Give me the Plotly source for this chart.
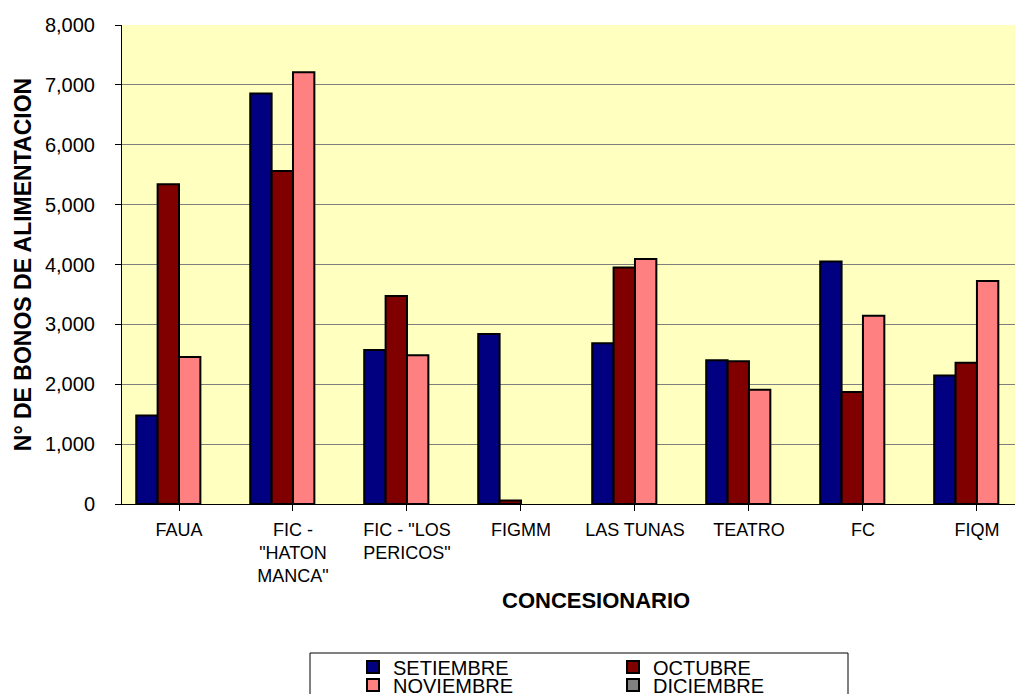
import plotly.graph_objects as go

categories = ['FAUA', 'FIC -<br>"HATON<br>MANCA"', 'FIC - "LOS<br>PERICOS"', 'FIGMM',
              'LAS TUNAS', 'TEATRO', 'FC', 'FIQM']
setiembre = [1480, 6855, 2570, 2840, 2685, 2400, 4050, 2145]
octubre = [5340, 5560, 3475, 60, 3950, 2385, 1870, 2360]
noviembre = [2455, 7210, 2485, 0, 4090, 1910, 3145, 3725]
diciembre = [None, None, None, None, None, None, None, None]

series = [
    ("SETIEMBRE", setiembre, "#000080", "legend"),
    ("OCTUBRE", octubre, "#800000", "legend"),
    ("NOVIEMBRE", noviembre, "#FF8080", "legend2"),
    ("DICIEMBRE", diciembre, "#808080", "legend2"),
]

FONT = "Liberation Sans, Arial, sans-serif"

fig = go.Figure()
for name, vals, color, leg in series:
    widths = [0 if v == 0 else 2 for v in vals]
    fig.add_trace(go.Bar(
        x=list(range(len(categories))), y=vals, name=name,
        marker=dict(color=color, line=dict(color="#000000", width=widths)),
        legend=leg,
    ))

# page has an 8px body margin; plot area on screen: x 122..1023, y 25..504
OFF = 8
W, H = 1023 - OFF, 694 - OFF
L, R, T = 122 - OFF, 0, 25 - OFF
B = H - T - 479
pw, ph = W - L - R, H - T - B

def px_x(x):
    return (x - OFF - L) / pw

def px_y(y):
    return (H - B - (y - OFF)) / ph

leg_common = dict(orientation="h", xanchor="left", yanchor="middle",
                  font=dict(family=FONT, size=20, color="#000000"),
                  bgcolor="rgba(0,0,0,0)", borderwidth=0,
                  entrywidth=215, entrywidthmode="pixels", itemclick=False)

fig.update_layout(
    width=W, height=H,
    margin=dict(l=L, r=R, t=T, b=B, autoexpand=False),
    paper_bgcolor="#FFFFFF",
    plot_bgcolor="#FFFFC0",
    barmode="group",
    bargap=0.25,
    bargroupgap=0,
    font=dict(family=FONT, color="#000000"),
    showlegend=True,
    legend=dict(x=px_x(353), y=px_y(667), **leg_common),
    legend2=dict(x=px_x(353), y=px_y(685), **leg_common),
    xaxis=dict(
        tickmode="array", tickvals=list(range(len(categories))), ticktext=categories,
        range=[-0.5, 7.404],
        tickson="boundaries", ticks="outside", ticklen=6, tickcolor="#000000",
        ticklabelstandoff=3,
        showline=True, linecolor="#000000", linewidth=1,
        showgrid=False, zeroline=False,
        tickfont=dict(family=FONT, size=18, color="#000000"),
        fixedrange=True,
    ),
    yaxis=dict(
        range=[0, 8000], dtick=1000, tickformat=",",
        ticks="outside", ticklen=6, tickcolor="#000000",
        ticklabelstandoff=16,
        showline=True, linecolor="#000000", linewidth=1,
        showgrid=True, gridcolor="#7F7F7F", gridwidth=1,
        zeroline=False,
        tickfont=dict(family=FONT, size=20, color="#000000"),
        title=dict(text="<b>N° DE BONOS DE ALIMENTACION</b>",
                   font=dict(family=FONT, size=23, color="#000000"), standoff=6),
        fixedrange=True,
    ),
    annotations=[dict(text="<b>CONCESIONARIO</b>", xref="paper", yref="paper",
                      x=px_x(596), y=px_y(600), xanchor="center", yanchor="middle",
                      showarrow=False, font=dict(family=FONT, size=22, color="#000000"))],
    shapes=[dict(type="rect", xref="paper", yref="paper",
                 x0=px_x(310), x1=px_x(848), y0=px_y(710), y1=px_y(653),
                 line=dict(color="#000000", width=1), fillcolor="rgba(0,0,0,0)",
                 layer="above")],
)

fig.write_html("out.html")
